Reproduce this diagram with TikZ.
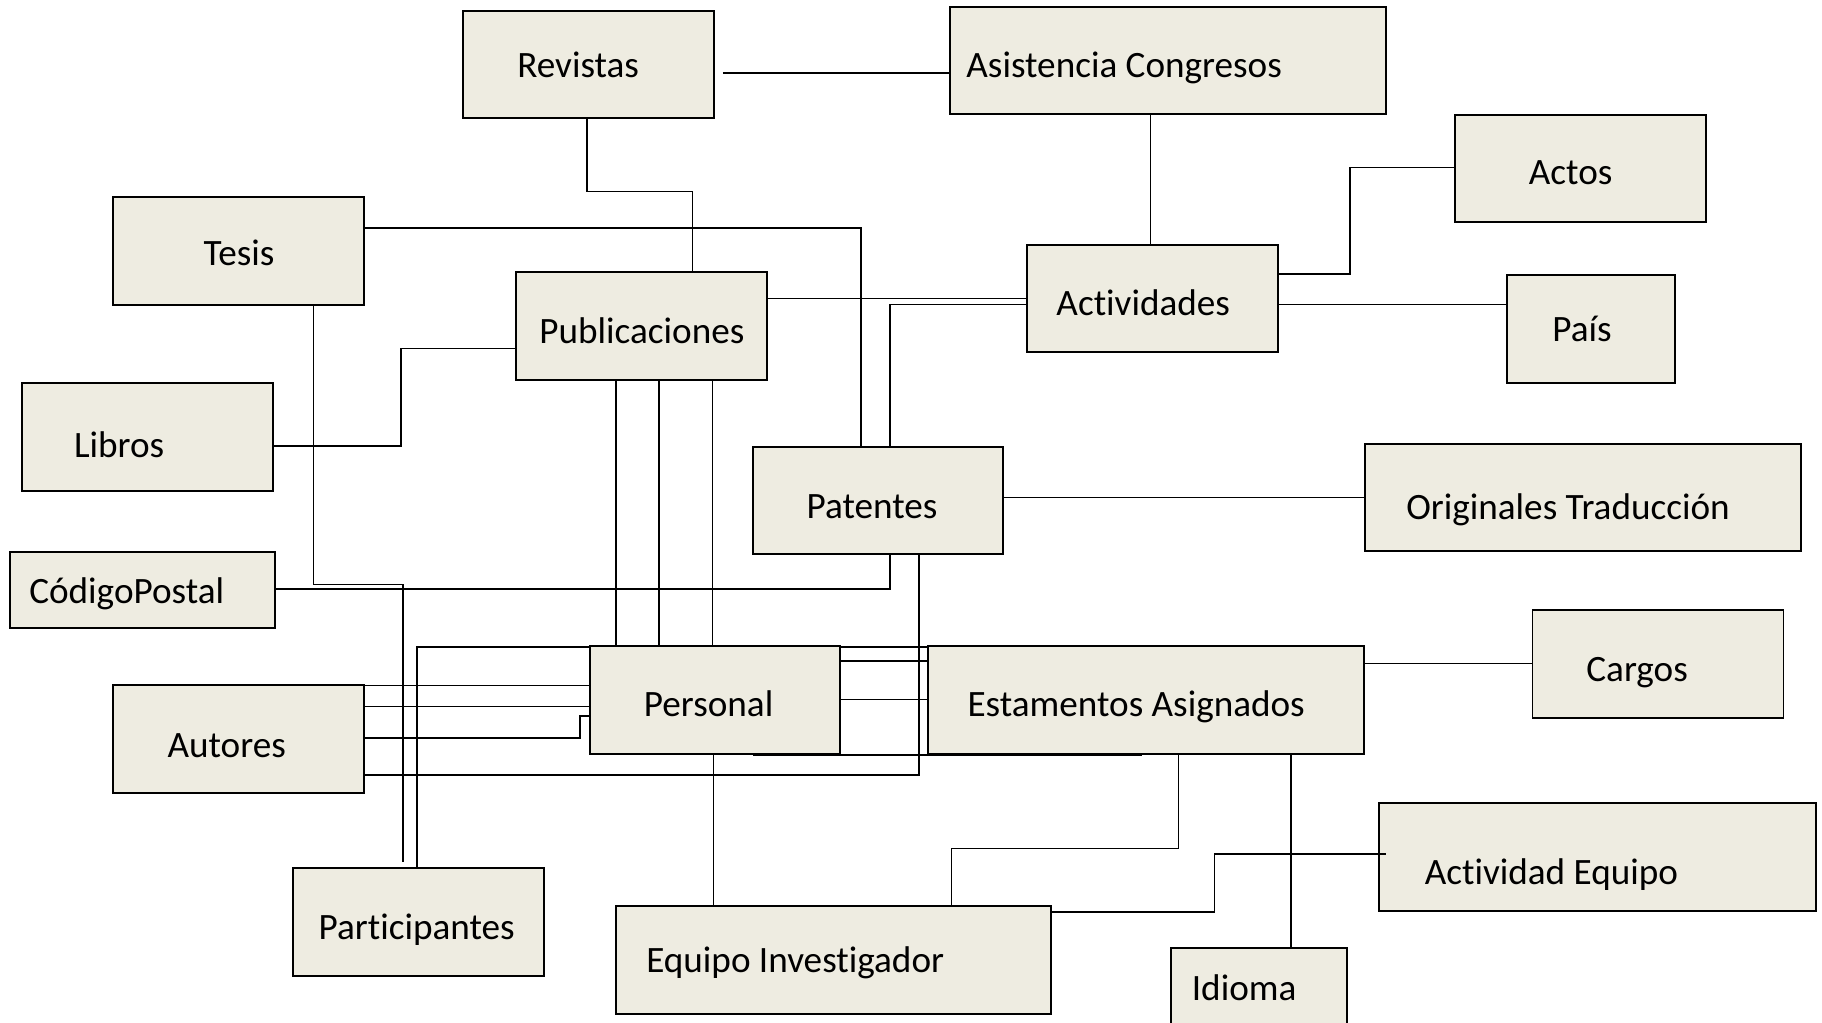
\documentclass[tikz,border=0pt]{standalone}
\usepackage{fontspec}
\setmainfont[Ligatures=NoCommon]{Carlito}
\usetikzlibrary{calc}
\pgfdeclarelayer{background}
\pgfsetlayers{background,main}
\definecolor{boxfill}{HTML}{EEECE1}
\tikzset{
  box/.style={draw=black, fill=boxfill, line width=1.7pt, rectangle, inner sep=0pt, anchor=north west},
  conn/.style={draw=black, line width=1.3pt},
  lbl/.style={anchor=base west, inner sep=0pt, yshift=-1.5pt, font=\fontsize{32}{38}\selectfont}
}
\begin{document}
\begin{tikzpicture}[x=1pt,y=-1pt]
\useasboundingbox (0,0) rectangle (1568,880);
\clip (0,0) rectangle (1568,880);
% boxes
\node[box, minimum width=216pt, minimum height=92pt] (rev) at (398,9) {};
\node[box, minimum width=375pt, minimum height=92pt] (asis) at (817,5) {};
\node[box, minimum width=216pt, minimum height=92pt] (actos) at (1251,98) {};
\node[box, minimum width=216pt, minimum height=93pt] (tesis) at (96,169) {};
\node[box, minimum width=216pt, minimum height=92pt] (activ) at (883,210) {};
\node[box, minimum width=216pt, minimum height=93pt] (publ) at (443,233) {};
\node[box, minimum width=145pt, minimum height=93pt] (pais) at (1296,236) {};
\node[box, minimum width=216pt, minimum height=93pt] (libros) at (18,329) {};
\node[box, minimum width=215pt, minimum height=92pt] (pat) at (647,384) {};
\node[box, minimum width=375pt, minimum height=92pt] (orig) at (1174,381) {};
\node[box, minimum width=228pt, minimum height=66pt] (cp) at (8,474) {};
\node[box, minimum width=215pt, minimum height=93pt] (pers) at (507,555) {};
\node[box, minimum width=375pt, minimum height=93pt] (estam) at (798,555) {};
\node[box, minimum width=216pt, minimum height=93pt] (cargos) at (1318,524) {};
\node[box, minimum width=216pt, minimum height=93pt] (autores) at (96,589) {};
\node[box, minimum width=216pt, minimum height=93pt] (partic) at (251,746) {};
\node[box, minimum width=376pt, minimum height=93pt] (acteq) at (1186,690) {};
\node[box, minimum width=375pt, minimum height=93pt] (eqinv) at (529,779) {};
\node[box, minimum width=151pt, minimum height=93pt] (idioma) at (1007,815) {};
% connectors (behind the boxes)
\coordinate (revend) at (622,63);
\coordinate (tpend) at (347,742);
\begin{pgfonlayer}{background}
\draw[conn] (revend) -- (asis.west |- 0,63);
\draw[conn] (rev.south -| 505,0) -- (505,165) -- (596,165) -- (publ.north -| 596,0);
\draw[conn] (tesis.east |- 0,196) -- (741,196) -- (pat.north -| 741,0);
\draw[conn] (tesis.south -| 270,0) -- (270,503) -- (347,503) -- (tpend);
\draw[conn] (partic.north -| 359,0) -- (359,557) -- (estam.west |- 0,557);
\draw[conn] (libros.east |- 0,384) -- (345,384) -- (345,300) -- (publ.west |- 0,300);
\draw[conn] (publ.south -| 530,0) -- (pers.north -| 530,0);
\draw[conn] (publ.south -| 567,0) -- (pers.north -| 567,0);
\draw[conn] (publ.south -| 613,0) -- (pers.north -| 613,0);
\draw[conn] (publ.east |- 0,257) -- (activ.west |- 0,257);
\draw[conn] (pat.north -| 766,0) -- (766,262) -- (activ.west |- 0,262);
\draw[conn] (asis.south -| 990,0) -- (activ.north -| 990,0);
\draw[conn] (activ.east |- 0,236) -- (1162,236) -- (1162,144) -- (actos.west |- 0,144);
\draw[conn] (activ.east |- 0,262) -- (pais.west |- 0,262);
\draw[conn] (pat.east |- 0,428) -- (orig.west |- 0,428);
\draw[conn] (cp.east |- 0,507) -- (766,507) -- (pat.south -| 766,0);
\draw[conn] (pat.south -| 791,0) -- (791,667) -- (autores.east |- 0,667);
\draw[conn] (autores.east |- 0,590) -- (pers.west |- 0,590);
\draw[conn] (autores.east |- 0,608) -- (pers.west |- 0,608);
\draw[conn] (autores.east |- 0,635) -- (499,635) -- (499,616) -- (pers.west |- 0,616);
\draw[conn] (pers.east |- 0,569) -- (estam.west |- 0,569);
\draw[conn] (pers.east |- 0,602) -- (estam.west |- 0,602);
\draw[conn] (pers.south -| 614,0) -- (eqinv.north -| 614,0);
\draw[conn] (estam.south -| 1014,0) -- (1014,730) -- (819,730) -- (eqinv.north -| 819,0);
\draw[conn] (estam.south -| 1111,0) -- (idioma.north -| 1111,0);
\draw[conn] (estam.east |- 0,571) -- (cargos.west |- 0,571);
\end{pgfonlayer}
% connectors over boxes
\draw[conn] (pers.south -| 648,0) -- (estam.south -| 983,0);
\draw[conn] (eqinv.east |- 0,785) -- (1045,785) -- (1045,735) -- ($(acteq.west |- 0,735)+(7,0)$);
% labels
\node[lbl] (t-rev) at (445,65.4) {Revistas};
\node[lbl] (t-asis) at (831.5,65.4) {Asistencia Congresos};
\node[lbl] (t-actos) at (1315.6,157.7) {Actos};
\node[lbl] (t-tesis) at (175,227.4) {Tesis};
\node[lbl] (t-activ) at (909,270.1) {Actividades};
\node[lbl] (t-publ) at (464,294) {Publicaciones};
\node[lbl] (t-pais) at (1335.7,292.5) {País};
\node[lbl] (t-libros) at (63.5,392.3) {Libros};
\node[lbl] (t-pat) at (694,444.5) {Patentes};
\node[lbl] (t-orig) at (1210,446) {Originales Traducción};
\node[lbl] (t-cp) at (25,517.8) {CódigoPostal};
\node[lbl] (t-pers) at (554,615.3) {Personal};
\node[lbl] (t-estam) at (832.5,615.3) {Estamentos Asignados};
\node[lbl] (t-cargos) at (1365,584.6) {Cargos};
\node[lbl] (t-autores) at (144,650) {Autores};
\node[lbl] (t-partic) at (274,806.9) {Participantes};
\node[lbl] (t-acteq) at (1226,760.1) {Actividad Equipo};
\node[lbl] (t-eqinv) at (556,835.6) {Equipo Investigador};
\node[lbl] (t-idioma) at (1025.5,859.1) {Idioma};
\end{tikzpicture}
\end{document}
